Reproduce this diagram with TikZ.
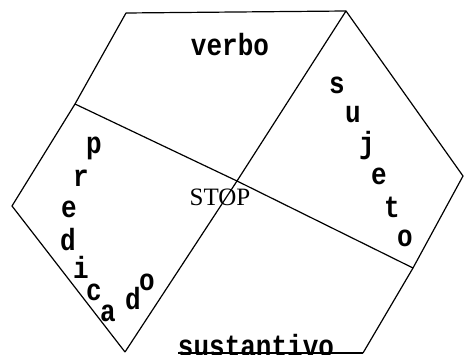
\documentclass[tikz,border=0pt]{standalone}
\usepackage{fontspec}
\setmainfont{Liberation Serif}
\setmonofont{Liberation Mono}
\newcommand{\tallt}[1]{\scalebox{1}[1.18]{#1}}
\begin{document}
\begin{tikzpicture}[x=1pt,y=-1pt,
  edge/.style={line width=1.2pt,black},
  word/.style={font=\fontsize{26}{26}\selectfont\ttfamily\bfseries,inner sep=0pt,anchor=center},
  letter/.style={font=\fontsize{26}{26}\selectfont\ttfamily\bfseries,inner sep=0pt,anchor=center},
  stoptxt/.style={font=\fontsize{25}{25}\selectfont\rmfamily,inner sep=0pt,anchor=center}]
\useasboundingbox (0,0) rectangle (464,355);
\clip (0,0) rectangle (464,355);
% vertices
\coordinate (A) at (126,13);
\coordinate (B) at (346,11);
\coordinate (C) at (463,176);
\coordinate (D) at (413,268);
\coordinate (E) at (363,353);
\coordinate (F) at (125,352);
\coordinate (G) at (12,206);
\coordinate (H) at (75,104);
\coordinate (O) at (237,181);
\coordinate (L) at (178,353);
% outline
\draw[edge] (A) -- (B) -- (C) -- (D) -- (E);
\draw[edge] (A) -- (H) -- (G) -- (F);
\draw[edge] (F) -- (O) -- (B);
\draw[edge] (H) -- (O) -- (D);
\draw[edge] (L) -- (E);
% labels
\node[word] (verbo) at (230,45) {\tallt{verbo}};
\node[stoptxt] (stop) at (220,197) {STOP};
\node[word] (sust) at (256,346) {\tallt{sustantivo}};
% sujeto
\node[letter] (s1) at (337,85) {\tallt{s}};
\node[letter] (s2) at (353,115) {\tallt{u}};
\node[letter] (s3) at (367,146) {\tallt{j}};
\node[letter] (s4) at (379,176) {\tallt{e}};
\node[letter] (s5) at (392,207) {\tallt{t}};
\node[letter] (s6) at (405,238) {\tallt{o}};
% predicado
\node[letter] (p1) at (94,148) {\tallt{p}};
\node[letter] (p2) at (81,178) {\tallt{r}};
\node[letter] (p3) at (69,209) {\tallt{e}};
\node[letter] (p4) at (68,240) {\tallt{d}};
\node[letter] (p5) at (81,267) {\tallt{i}};
\node[letter] (p6) at (94,292) {\tallt{c}};
\node[letter] (p7) at (108,313) {\tallt{a}};
\node[letter] (p8) at (133,299) {\tallt{d}};
\node[letter] (p9) at (147,282) {\tallt{o}};
\end{tikzpicture}
\end{document}
